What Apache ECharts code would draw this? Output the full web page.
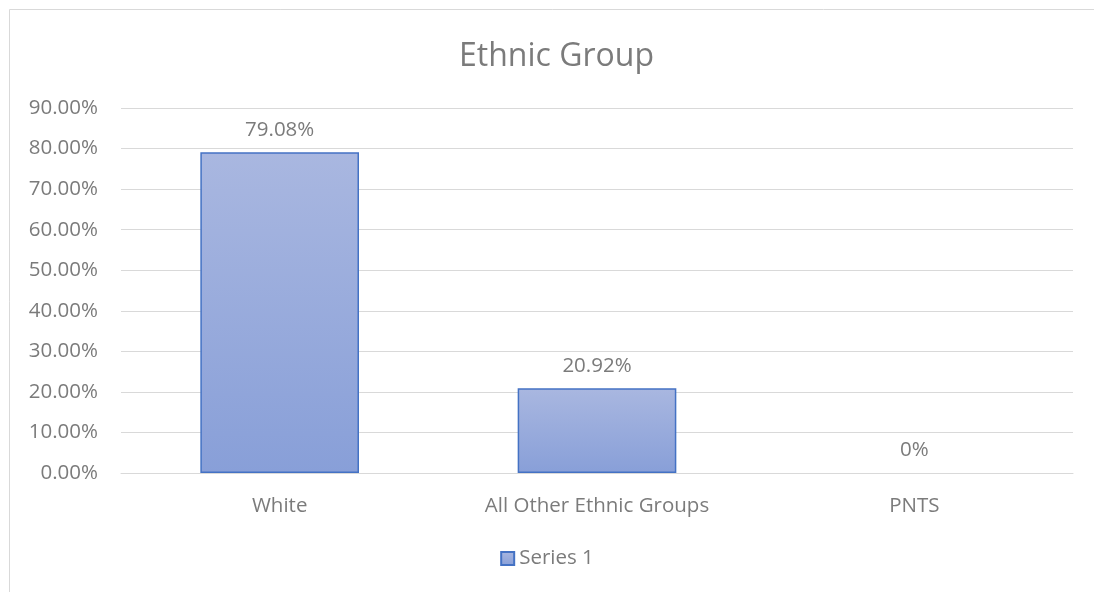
<!DOCTYPE html>
<html>
<head>
<meta charset="utf-8">
<script src="https://cdn.jsdelivr.net/npm/echarts@6/dist/echarts.min.js"></script>
<style>
html,body{margin:0;padding:0;background:#fff;overflow:hidden;}
#c{width:1094px;height:592px;}
</style>
</head>
<body>
<div id="c"></div>
<script>
const categories = ["White", "All Other Ethnic Groups", "PNTS"];
const values = [79.08, 20.92, 0];
const valueLabels = ["79.08%", "20.92%", "0%"];
const seriesName = "Series 1";
const titleText = "Ethnic Group";

const textColor = "#7b7b7b";
const fontFam = "'Open Sans', 'Noto Sans', sans-serif";
const fs = 20.5;
const barFill = new echarts.graphic.LinearGradient(0, 0, 0, 1, [
  {offset: 0, color: "#a9b7e0"},
  {offset: 1, color: "#889fd8"}
]);

const barData = values.map(v => ({
  value: v,
  itemStyle: v === 0 ? {borderWidth: 0, opacity: 0} : {}
}));

const chart = echarts.init(document.getElementById("c"), null, {renderer: "canvas"});
chart.setOption({
  animation: false,
  backgroundColor: "#ffffff",
  graphic: [{
    type: "polyline",
    shape: {points: [[9.5, 600], [9.5, 9.5], [1100, 9.5]]},
    style: {fill: null, stroke: "#d9d9d9", lineWidth: 1},
    silent: true
  }],
  title: {
    text: titleText,
    left: 454,
    top: 36,
    textStyle: {color: textColor, fontSize: 32, fontWeight: "normal", fontFamily: fontFam}
  },
  legend: {
    data: [seriesName],
    top: 543,
    left: "center",
    itemWidth: 13,
    itemHeight: 13,
    itemGap: 6,
    icon: "rect",
    textStyle: {color: textColor, fontSize: fs, fontFamily: fontFam}
  },
  grid: {left: 121, right: 21, top: 108, bottom: 119, containLabel: false},
  xAxis: {
    type: "category",
    data: categories,
    axisLine: {show: true, lineStyle: {color: "#d9d9d9", width: 1}},
    axisTick: {show: false},
    axisLabel: {color: textColor, fontSize: fs, fontFamily: fontFam, margin: 23}
  },
  yAxis: {
    type: "value",
    min: 0,
    max: 90,
    interval: 10,
    axisLine: {show: false},
    axisTick: {show: false},
    splitLine: {lineStyle: {color: "#d9d9d9", width: 1}},
    axisLabel: {
      color: textColor, fontSize: fs, fontFamily: fontFam, margin: 23,
      formatter: v => v.toFixed(2) + "%"
    }
  },
  series: [{
    name: seriesName,
    type: "bar",
    data: barData,
    barWidth: "50%",
    itemStyle: {color: barFill, borderColor: "#4472c4", borderWidth: 1.5},
    label: {
      show: true,
      position: "top",
      distance: 12,
      color: textColor,
      fontSize: fs,
      fontFamily: fontFam,
      opacity: 1,
      formatter: p => valueLabels[p.dataIndex]
    }
  }]
});
</script>
</body>
</html>
